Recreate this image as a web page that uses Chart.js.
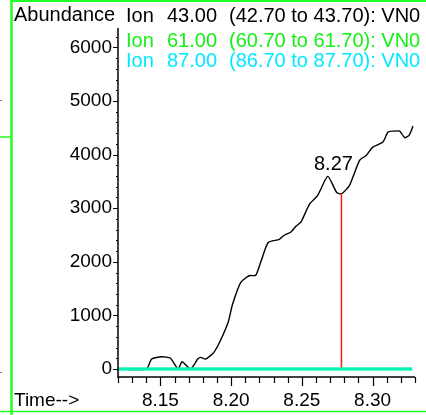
<!DOCTYPE html>
<html>
<head>
<meta charset="utf-8">
<script src="https://cdn.jsdelivr.net/npm/chart.js@4/dist/chart.umd.min.js"></script>
<style>
  html, body { margin: 0; padding: 0; background: #fff; }
  #wrap { width: 426px; height: 415px; position: relative; }
</style>
</head>
<body>
<div id="wrap"><canvas id="ticChart"></canvas></div>
<script>
// retention time (min) and abundance for ion 43
const times = [8.120, 8.1401, 8.1438, 8.1509, 8.1571, 8.1625, 8.1653, 8.1713, 8.1765, 8.1784,
  8.1819, 8.1878, 8.1926, 8.1980, 8.2008, 8.2068, 8.2127, 8.2174, 8.2210, 8.2262,
  8.2340, 8.2375, 8.2423, 8.2458, 8.2494, 8.2553, 8.2612, 8.2683, 8.2747, 8.2782,
  8.2837, 8.2908, 8.2955, 8.3002, 8.3073, 8.3109, 8.3144, 8.3192, 8.3227, 8.3258, 8.3286];
const ion43 = [0, 0, 186, 230, 200, 0, 136, 0, 190, 217,
  186, 310, 540, 880, 1190, 1615, 1740, 1750, 2000, 2360,
  2420, 2495, 2557, 2663, 2743, 3073, 3240, 3594, 3290, 3270,
  3427, 3892, 3985, 4140, 4233, 4420, 4438, 4438, 4315, 4358, 4531];

// ions 61 and 87 stay flat at zero over the window
const flatTimes = [8.120, 8.328];
const ion61 = [0, 0];
const ion87 = [0, 0];

// peak marker
const markerTime = 8.278;
const markerAbundance = 3270;

const yTicks = [0, 1000, 2000, 3000, 4000, 5000, 6000];
const xTicks = [8.15, 8.20, 8.25, 8.30];

const ionLabels = ['43.00', '61.00', '87.00'];
const ionRanges = ['(42.70 to 43.70): VN0', '(60.70 to 61.70): VN0', '(86.70 to 87.70): VN0'];
const ionColors = ['#000000', '#14f014', '#00eaff'];

const FONT = "'Liberation Sans', Arial, sans-serif";

const toPoints = (xs, ys) => xs.map((x, i) => ({ x: x, y: ys[i] }));

// axes, ticks, labels, header and frame
const decorations = {
  id: 'decorations',
  afterDraw(chart) {
    const ctx = chart.ctx;
    const xs = chart.scales.x;
    const ys = chart.scales.y;
    const area = chart.chartArea;
    ctx.save();

    // frame lines
    ctx.strokeStyle = '#22ff22';
    ctx.lineWidth = 2.5;
    ctx.beginPath(); ctx.moveTo(11.5, 0); ctx.lineTo(11.5, 415); ctx.stroke();
    ctx.lineWidth = 2;
    ctx.beginPath(); ctx.moveTo(11, 1); ctx.lineTo(426, 1); ctx.stroke();
    ctx.lineWidth = 1.5;
    ctx.beginPath(); ctx.moveTo(0, 411.5); ctx.lineTo(426, 411.5); ctx.stroke();
    ctx.beginPath(); ctx.moveTo(0, 137); ctx.lineTo(11, 137); ctx.stroke();
    ctx.fillStyle = '#888';
    ctx.fillRect(0, 100, 2, 1);
    ctx.fillRect(0, 372, 2, 1);

    // y axis
    ctx.strokeStyle = '#000';
    ctx.lineWidth = 1.5;
    ctx.beginPath(); ctx.moveTo(area.left, area.top); ctx.lineTo(area.left, area.bottom + 1); ctx.stroke();
    ctx.lineWidth = 1;
    for (let v = 0; v <= ys.max; v += 200) {
      const y = Math.round(ys.getPixelForValue(v)) + 0.5;
      const len = v % 1000 === 0 ? 5 : 2;
      ctx.beginPath(); ctx.moveTo(area.left - len, y); ctx.lineTo(area.left, y); ctx.stroke();
    }
    ctx.fillStyle = '#000';
    ctx.font = '19px ' + FONT;
    ctx.textAlign = 'right';
    ctx.textBaseline = 'middle';
    yTicks.forEach(v => ctx.fillText(String(v), area.left - 6, ys.getPixelForValue(v)));

    // x axis
    ctx.lineWidth = 1.5;
    ctx.beginPath(); ctx.moveTo(area.left, area.bottom); ctx.lineTo(xs.getPixelForValue(xs.max), area.bottom); ctx.stroke();
    ctx.lineWidth = 1.2;
    for (let i = 12; i <= 33; i++) {
      const t = 8 + i / 100;
      const x = Math.round(xs.getPixelForValue(t)) + 0.5;
      const len = i % 5 === 0 ? 9 : 6;
      ctx.beginPath(); ctx.moveTo(x, area.bottom); ctx.lineTo(x, area.bottom + len); ctx.stroke();
    }
    ctx.textAlign = 'center';
    ctx.textBaseline = 'alphabetic';
    xTicks.forEach(t => ctx.fillText(t.toFixed(2), xs.getPixelForValue(t), 406));
    ctx.textAlign = 'left';
    ctx.fillText('Time-->', 14, 406);

    // header
    ctx.font = '20px ' + FONT;
    ctx.fillText('Abundance', 14, 21);
    const rows = [22, 47, 67];
    ionLabels.forEach((lab, i) => {
      ctx.fillStyle = ionColors[i];
      ctx.fillText('Ion', 126, rows[i]);
      ctx.fillText(lab, 167, rows[i]);
      ctx.fillText(ionRanges[i], 229, rows[i]);
    });

    // marker label (retention time truncated to two decimals)
    ctx.fillStyle = '#000';
    ctx.textAlign = 'center';
    const shown = (Math.floor(markerTime * 100) / 100).toFixed(2);
    ctx.fillText(shown, xs.getPixelForValue(markerTime) - 8, ys.getPixelForValue(markerAbundance) - 24);

    ctx.restore();
  }
};

new Chart(document.getElementById('ticChart'), {
  type: 'line',
  data: {
    datasets: [
      {
        label: 'Ion 87.00',
        data: toPoints(flatTimes, ion87),
        borderColor: 'rgba(0, 255, 230, 0.6)',
        borderWidth: 3,
        pointRadius: 0,
        order: 0
      },
      {
        label: 'Ion 61.00',
        data: toPoints(flatTimes, ion61),
        borderColor: '#10e070',
        borderWidth: 3,
        pointRadius: 0,
        order: 1
      },
      {
        label: 'marker',
        data: [{ x: markerTime, y: 0 }, { x: markerTime, y: markerAbundance }],
        borderColor: '#ff1a1a',
        borderWidth: 1.5,
        pointRadius: 0,
        order: 2
      },
      {
        label: 'Ion 43.00',
        data: toPoints(times, ion43),
        borderColor: '#000',
        borderWidth: 1.4,
        pointRadius: 0,
        tension: 0.2,
        order: 3
      }
    ]
  },
  options: {
    responsive: true,
    maintainAspectRatio: false,
    animation: false,
    layout: {
      padding: { left: 118, top: 28, right: 11, bottom: 38 }
    },
    plugins: {
      legend: { display: false },
      tooltip: { enabled: false }
    },
    scales: {
      x: { type: 'linear', min: 8.12, max: 8.33, display: false },
      y: { type: 'linear', min: -149, max: 6362, display: false }
    }
  },
  plugins: [decorations]
});
</script>
</body>
</html>
